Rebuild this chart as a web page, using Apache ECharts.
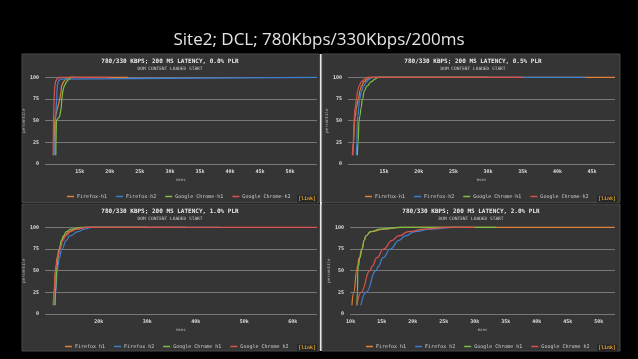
<!DOCTYPE html>
<html><head><meta charset="utf-8">
<script src="https://cdn.jsdelivr.net/npm/echarts@6/dist/echarts.min.js"></script>
<style>html,body{margin:0;padding:0;background:#000;}#c{width:638px;height:359px;}</style>
</head><body><div id="c"></div>
<script>
// ---------- DATA ----------
const mainTitle = 'Site2; DCL; 780Kbps/330Kbps/200ms';
const panelTitles = [
  '780/330 KBPS; 200 MS LATENCY, 0.0% PLR',
  '780/330 KBPS; 200 MS LATENCY, 0.5% PLR',
  '780/330 KBPS; 200 MS LATENCY, 1.0% PLR',
  '780/330 KBPS; 200 MS LATENCY, 2.0% PLR'
];
const subTitle = 'DOM CONTENT LOADED START';
const namesTop = ['Firefox-h1', 'Firefox-h2', 'Google Chrome-h1', 'Google Chrome-h2'];
const namesBottom = ['Firefox h1', 'Firefox h2', 'Google Chrome h1', 'Google Chrome h2'];
const percentiles = [10, 25, 50, 55, 65, 75, 85, 90, 95, 98, 100, 100];
const yTicks = [0, 25, 50, 75, 100];

// x ticks (ms) per panel
const xTicks00 = [15000, 20000, 25000, 30000, 35000, 40000, 45000, 50000];
const xTicks05 = [15000, 20000, 25000, 30000, 35000, 40000, 45000];
const xTicks10 = [20000, 30000, 40000, 50000, 60000];
const xTicks20 = [10000, 15000, 20000, 25000, 30000, 35000, 40000, 45000, 50000];

// DCL time (ms) at each percentile — 0.0% PLR
const plr00FirefoxH1 = [10670, 10720, 10830, 10950, 11300, 11670, 11900, 11950, 12300, 12700, 13200, 23000];
const plr00FirefoxH2 = [10830, 10880, 10950, 10990, 11050, 11150, 11200, 11250, 11400, 11700, 11950, 54500];
const plr00ChromeH1  = [11000, 11030, 11100, 11650, 11900, 12000, 12200, 12400, 12800, 13200, 13600, 14000];
const plr00ChromeH2  = [10550, 10580, 10620, 10640, 10680, 10720, 10780, 10850, 10950, 11200, 11550, 20000];
// 0.5% PLR
const plr05FirefoxH1 = [10500, 10600, 10750, 10850, 11000, 11300, 11550, 11750, 12100, 12600, 13100, 48300];
const plr05FirefoxH2 = [11010, 11070, 11150, 11220, 11350, 11450, 11800, 12050, 12450, 12900, 13420, 44000];
const plr05ChromeH1  = [11150, 11250, 11400, 11500, 11700, 11870, 12200, 12550, 13170, 13700, 14140, 30000];
const plr05ChromeH2  = [10430, 10550, 10680, 10720, 10830, 11010, 11200, 11400, 11730, 12200, 12700, 35000];
// 1.0% PLR
const plr10FirefoxH1 = [10620, 10750, 11050, 11150, 11400, 11800, 12400, 12900, 13900, 15200, 17500, 38000];
const plr10FirefoxH2 = [10960, 11100, 11450, 11550, 11850, 12400, 13300, 14000, 15750, 17000, 18500, 45000];
const plr10ChromeH1  = [10960, 11050, 11300, 11400, 11600, 11900, 12300, 12700, 13300, 14300, 16500, 30000];
const plr10ChromeH2  = [10620, 10750, 11100, 11200, 11500, 11950, 12600, 13200, 14200, 15500, 17500, 65000];
// 2.0% PLR
const plr20FirefoxH1 = [10210, 10500, 11000, 11100, 11400, 11800, 12200, 12450, 13250, 15390, 18050, 52500];
const plr20FirefoxH2 = [11650, 12500, 14100, 14450, 15250, 16400, 17800, 18800, 20400, 22800, 26600, 28000];
const plr20ChromeH1  = [11010, 11100, 11150, 11250, 11500, 11850, 12200, 12450, 13250, 14800, 18000, 33500];
const plr20ChromeH2  = [11010, 11700, 13100, 13450, 14250, 15300, 16700, 17700, 19400, 21800, 26000, 30000];

// ---------- LAYOUT / STYLE ----------
const colors = ['#e0803a', '#3f7fcf', '#7dbf45', '#d9534f'];
const font = 'DejaVu Sans Mono';
const panels = [
  {title: panelTitles[0], names: namesTop, data: [plr00FirefoxH1, plr00FirefoxH2, plr00ChromeH1, plr00ChromeH2], ticks: xTicks00,
   min: 9200, max: 54500, grid: {left: 45, right: 321, top: 77.3, bottom: 195}, cx: 170, ty: 61, legend: {left: 62, top: 189}, smooth: false,
   box: [22, 54, 297.5, 148.5], link: [307, 199]},
  {title: panelTitles[1], names: namesTop, data: [plr05FirefoxH1, plr05FirefoxH2, plr05ChromeH1, plr05ChromeH2], ticks: xTicks05,
   min: 9800, max: 48300, grid: {left: 348, right: 23, top: 77.3, bottom: 195}, cx: 473, ty: 61, legend: {left: 360, top: 189}, smooth: true,
   box: [322, 54, 298, 148.5], link: [607, 199]},
  {title: panelTitles[2], names: namesBottom, data: [plr10FirefoxH1, plr10FirefoxH2, plr10ChromeH1, plr10ChromeH2], ticks: xTicks10,
   min: 8900, max: 65000, grid: {left: 45, right: 321, top: 227.3, bottom: 45}, cx: 170, ty: 211, legend: {left: 60, top: 339}, smooth: true,
   box: [22, 204, 297.5, 147], link: [307, 348]},
  {title: panelTitles[3], names: namesBottom, data: [plr20FirefoxH1, plr20FirefoxH2, plr20ChromeH1, plr20ChromeH2], ticks: xTicks20,
   min: 9900, max: 52600, grid: {left: 350, right: 23, top: 227.3, bottom: 45}, cx: 471, ty: 211, legend: {left: 361, top: 339}, smooth: true,
   box: [322, 204, 298, 147], link: [607, 348]}
];

const grid = [], xAxis = [], yAxis = [], series = [], legend = [], graphic = [];

graphic.push({type: 'text', x: 319, y: 40, z: 10, style: {text: mainTitle, fill: '#e4e4e4', font: '17px "Open Sans"', textAlign: 'center', textVerticalAlign: 'middle'}});
graphic.push({type: 'rect', shape: {x: 320, y: 54, width: 2, height: 297}, style: {fill: '#e8e8e8'}, z: -20});

panels.forEach((p, i) => {
  graphic.push({type: 'rect', shape: {x: p.box[0], y: p.box[1], width: p.box[2], height: p.box[3]}, style: {fill: '#353535', stroke: '#4a4a4a', lineWidth: 1}, z: -20});
  graphic.push({type: 'text', x: p.cx, y: p.ty, z: 10, style: {text: p.title, fill: '#e8e8e8', font: 'bold 6px "' + font + '"', textAlign: 'center', textVerticalAlign: 'middle'}});
  graphic.push({type: 'text', x: p.cx, y: p.ty + 8, z: 10, style: {text: subTitle, fill: '#d0d0d0', font: '4.5px "' + font + '"', textAlign: 'center', textVerticalAlign: 'middle'}});
  graphic.push({type: 'text', x: p.link[0], y: p.link[1], z: 10, style: {text: '[link]', fill: '#e0a030', font: 'bold 5px "' + font + '"', textAlign: 'center', textVerticalAlign: 'middle', backgroundColor: '#262626', padding: [1, 1]}});

  grid.push(Object.assign({containLabel: false}, p.grid));
  xAxis.push({
    type: 'value', gridIndex: i, min: p.min, max: p.max,
    name: 'msec', nameLocation: 'middle', nameGap: 14,
    nameTextStyle: {color: '#bbbbbb', fontSize: 4, fontFamily: font},
    axisLine: {show: false}, axisTick: {show: false, customValues: p.ticks},
    splitLine: {show: false},
    axisLabel: {customValues: p.ticks, color: '#dddddd', fontSize: 5, fontFamily: font, fontWeight: 'bold', margin: 5,
      formatter: v => (v / 1000) + 'k'}
  });
  yAxis.push({
    type: 'value', gridIndex: i, min: 0, max: 100, interval: 25,
    name: 'percentile', nameLocation: 'middle', nameGap: 15, nameRotate: 90,
    nameTextStyle: {color: '#bbbbbb', fontSize: 4, fontFamily: font},
    axisLine: {show: false}, axisTick: {show: false},
    splitLine: {lineStyle: {color: '#777777', width: 1}},
    axisLabel: {color: '#dddddd', fontSize: 5, fontFamily: font, fontWeight: 'bold', margin: 6}
  });
  p.data.forEach((xs, k) => {
    series.push({
      type: 'line', name: p.names[k], xAxisIndex: i, yAxisIndex: i,
      data: xs.map((x, j) => [x, percentiles[j]]),
      showSymbol: false, symbol: 'none', smooth: p.smooth ? 0.5 : false, smoothMonotone: 'x',
      clip: false,
      lineStyle: {color: colors[k], width: 1.2}, itemStyle: {color: colors[k]},
      animation: false
    });
  });
  legend.push({
    left: p.legend.left, top: p.legend.top, data: p.names, orient: 'horizontal',
    icon: 'rect', itemWidth: 7, itemHeight: 1.5, itemGap: 9,
    textStyle: {color: '#d0d0d0', fontSize: 5, fontFamily: font, padding: [0, 0, 0, -2]}
  });
});

const chart = echarts.init(document.getElementById('c'), null, {renderer: 'canvas'});
chart.setOption({
  backgroundColor: '#000',
  animation: false,
  color: colors,
  grid, xAxis, yAxis, series, legend, graphic
});
</script></body></html>
